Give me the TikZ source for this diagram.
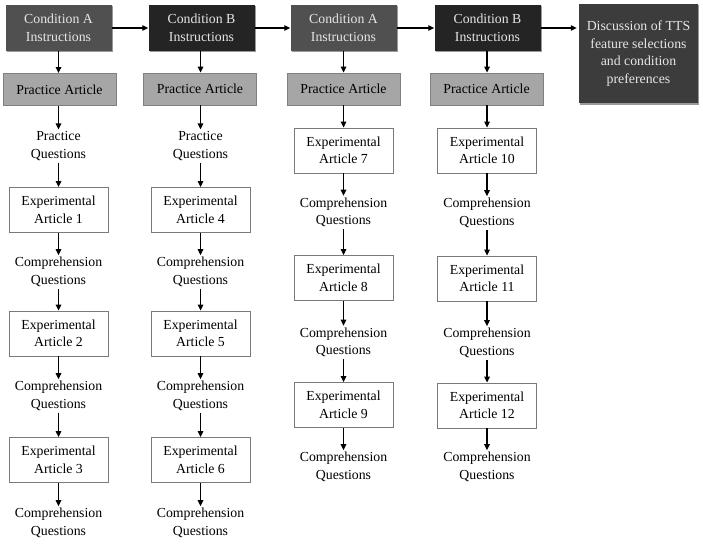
\documentclass[tikz,border=0pt]{standalone}
\usepackage{fontspec}
\setmainfont{Liberation Serif}
\usetikzlibrary{arrows.meta,shadows}
\definecolor{condA}{HTML}{505050}
\definecolor{condB}{HTML}{242424}
\definecolor{discC}{HTML}{3C3C3C}
\definecolor{headtxt}{HTML}{E6E6E6}
\definecolor{pracfill}{HTML}{A6A6A6}
\definecolor{pracdraw}{HTML}{808080}
\definecolor{expdraw}{HTML}{7A7A7A}
\tikzset{
  every node/.style={font=\fontsize{13.8}{17.5}\selectfont, align=center},
  headbox/.style={rectangle, minimum width=106pt, minimum height=46pt, inner sep=1pt, text=headtxt,
    drop shadow={shadow xshift=1.2pt, shadow yshift=-1.5pt, opacity=0.4, fill=black}},
  headA/.style={headbox, fill=condA},
  headB/.style={headbox, fill=condB},
  pracbox/.style={rectangle, draw=pracdraw, fill=pracfill, line width=0.8pt, minimum width=113pt, minimum height=32pt, inner sep=1pt},
  expbox/.style={rectangle, draw=expdraw, fill=white, line width=0.8pt, minimum width=99pt, minimum height=45pt, inner sep=1pt},
  qtext/.style={rectangle, inner sep=2pt},
  arr/.style={-{Triangle[length=6pt,width=5.5pt]}, line width=1.3pt, black}
}
\begin{document}
\begin{tikzpicture}[x=1pt,y=-1pt]
\useasboundingbox (0,0) rectangle (703,543);
% headers
\node[headA] (h1) at (58.5,28) {Condition A\\Instructions};
\node[headB] (h2) at (201.5,28) {Condition B\\Instructions};
\node[headA] (h3) at (343.5,28) {Condition A\\Instructions};
\node[headB] (h4) at (487.5,28) {Condition B\\Instructions};
\node[rectangle, fill=discC, text=headtxt, minimum width=119pt, minimum height=99pt, inner sep=1pt,
  drop shadow={shadow xshift=1.2pt, shadow yshift=-1.5pt, opacity=0.4, fill=black}] (d) at (638.5,53.5)
  {Discussion of TTS\\feature selections\\and condition\\preferences};
\draw[arr] (h1.east |- 0,28) -- (h2.west |- 0,28);
\draw[arr] (h2.east |- 0,28) -- (h3.west |- 0,28);
\draw[arr] (h3.east |- 0,28) -- (h4.west |- 0,28);
\draw[arr] (h4.east |- 0,28) -- ([xshift=-2pt]d.west |- 0,28);
% practice articles
\node[pracbox] (p1) at (59.5,89.5) {Practice Article};
\node[pracbox] (p2) at (200,89) {Practice Article};
\node[pracbox] (p3) at (343.5,89) {Practice Article};
\node[pracbox] (p4) at (486.5,89) {Practice Article};
\draw[arr] (h1.south -| 58.5,0) -- (p1.north -| 58.5,0);
\draw[arr] (h2.south -| 200.5,0) -- (p2.north -| 200.5,0);
\draw[arr] (h3.south -| 343.5,0) -- (p3.north -| 343.5,0);
\draw[arr] (h4.south -| 487,0) -- (p4.north -| 487,0);
% column 1
\node[qtext] (q1) at (58.5,146) {Practice\\Questions};
\node[expbox] (e1) at (58.5,210) {Experimental\\Article 1};
\node[qtext] (c11) at (58.5,272) {Comprehension\\Questions};
\node[expbox] (e2) at (58.5,333.5) {Experimental\\Article 2};
\node[qtext] (c12) at (58.5,396) {Comprehension\\Questions};
\node[expbox] (e3) at (58.5,460) {Experimental\\Article 3};
\node[qtext] (c13) at (58.5,523) {Comprehension\\Questions};
\draw[arr] (p1.south -| q1) -- (q1);
\draw[arr] (q1) -- (e1);
\draw[arr] (e1) -- (c11);
\draw[arr] (c11) -- (e2);
\draw[arr] (e2) -- (c12);
\draw[arr] (c12) -- (e3);
\draw[arr] (e3) -- (c13);
% column 2
\node[qtext] (q2) at (200.5,146) {Practice\\Questions};
\node[expbox] (e4) at (200.5,210) {Experimental\\Article 4};
\node[qtext] (c21) at (200.5,272) {Comprehension\\Questions};
\node[expbox] (e5) at (200.5,333.5) {Experimental\\Article 5};
\node[qtext] (c22) at (200.5,396) {Comprehension\\Questions};
\node[expbox] (e6) at (200.5,460) {Experimental\\Article 6};
\node[qtext] (c23) at (200.5,523) {Comprehension\\Questions};
\draw[arr] (p2.south -| q2) -- (q2);
\draw[arr] (q2) -- (e4);
\draw[arr] (e4) -- (c21);
\draw[arr] (c21) -- (e5);
\draw[arr] (e5) -- (c22);
\draw[arr] (c22) -- (e6);
\draw[arr] (e6) -- (c23);
% column 3
\node[expbox] (e7) at (343.5,150.5) {Experimental\\Article 7};
\node[qtext] (c31) at (343.5,212.5) {Comprehension\\Questions};
\node[expbox] (e8) at (343.5,278) {Experimental\\Article 8};
\node[qtext] (c32) at (343.5,342.5) {Comprehension\\Questions};
\node[expbox] (e9) at (343.5,405) {Experimental\\Article 9};
\node[qtext] (c33) at (343.5,467) {Comprehension\\Questions};
\draw[arr] (p3.south -| e7) -- (e7);
\draw[arr] (e7) -- (c31);
\draw[arr] (c31) -- (e8);
\draw[arr] (e8) -- (c32);
\draw[arr] (c32) -- (e9);
\draw[arr] (e9) -- (c33);
% column 4
\node[expbox] (e10) at (487,150.5) {Experimental\\Article 10};
\node[qtext] (c41) at (487,213) {Comprehension\\Questions};
\node[expbox] (e11) at (487,278.5) {Experimental\\Article 11};
\node[qtext] (c42) at (487,343) {Comprehension\\Questions};
\node[expbox] (e12) at (487,405.5) {Experimental\\Article 12};
\node[qtext] (c43) at (487,467) {Comprehension\\Questions};
\draw[arr] (p4.south -| e10) -- (e10);
\draw[arr] (e10) -- (c41);
\draw[arr] (c41) -- (e11);
\draw[arr] (e11) -- (c42);
\draw[arr] (c42) -- (e12);
\draw[arr] (e12) -- (c43);
\end{tikzpicture}
\end{document}
